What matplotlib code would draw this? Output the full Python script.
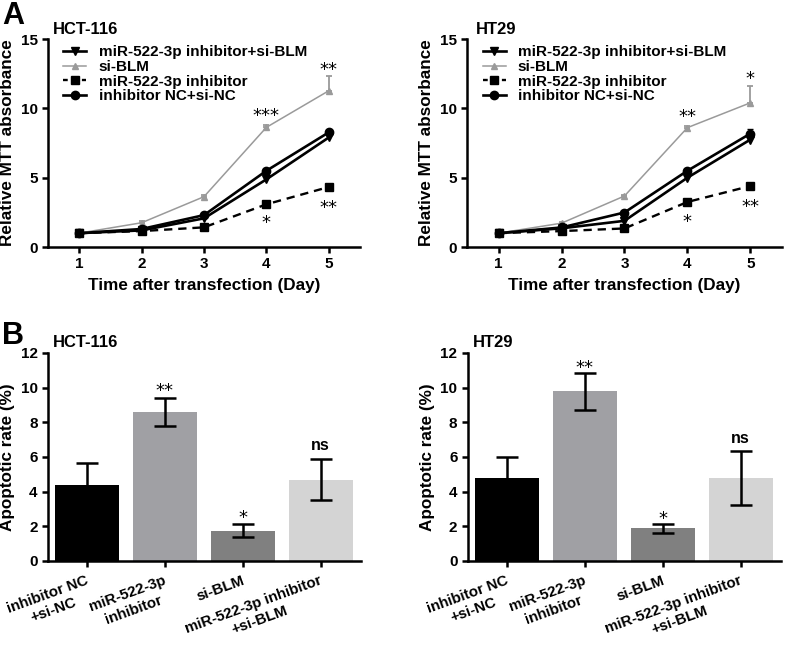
import matplotlib
matplotlib.use("Agg")
import matplotlib.pyplot as plt
from matplotlib.lines import Line2D
import numpy as np

plt.rcParams['font.family'] = ['Liberation Sans', 'DejaVu Sans']
plt.rcParams['font.weight'] = 'bold'
plt.rcParams['axes.labelweight'] = 'bold'

# == Data ==
days = [1, 2, 3, 4, 5]
series_names = ["miR-522-3p inhibitor+si-BLM", "si-BLM", "miR-522-3p inhibitor", "inhibitor NC+si-NC"]

# HCT-116 MTT
hct_inh_siblm = [1.0, 1.2, 2.07, 4.88, 7.9]
hct_siblm = [1.0, 1.75, 3.63, 8.63, 11.27]
hct_inh = [1.0, 1.15, 1.42, 3.08, 4.33]
hct_nc = [1.0, 1.3, 2.3, 5.5, 8.27]
hct_siblm_err = [0.05, 0.1, 0.1, 0.15, 1.06]
hct_nc_err = [0.05, 0.05, 0.1, 0.15, 0.15]

# HT29 MTT
ht_inh_siblm = [1.0, 1.35, 1.89, 5.0, 7.75]
ht_siblm = [1.0, 1.72, 3.68, 8.61, 10.4]
ht_inh = [1.0, 1.15, 1.34, 3.25, 4.4]
ht_nc = [1.0, 1.41, 2.49, 5.5, 8.18]
ht_siblm_err = [0.05, 0.1, 0.1, 0.15, 1.23]
ht_nc_err = [0.05, 0.05, 0.1, 0.15, 0.35]

# significance marks (day, y, text)
hct_marks = [(4, 9.43, "***"), (5, 12.77, "**"), (4, 1.76, "*"), (5, 2.84, "**")]
ht_marks = [(4, 9.36, "**"), (5, 12.09, "*"), (4, 1.82, "*"), (5, 2.9, "**")]

# Apoptosis bars
bar_labels = ["inhibitor NC\n+si-NC", "miR-522-3p\ninhibitor", "si-BLM", "miR-522-3p inhibitor\n+si-BLM"]
bar_colors = ["#000000", "#a0a0a4", "#808080", "#d4d4d4"]
hct_apop = [4.4, 8.6, 1.75, 4.7]
hct_apop_err = [1.25, 0.8, 0.36, 1.17]
ht_apop = [4.8, 9.8, 1.88, 4.78]
ht_apop_err = [1.22, 1.07, 0.28, 1.56]
bar_sig = ["", "**", "*", "ns"]
hct_sig_y = [0, 9.8, 2.5, 6.69]
ht_sig_y = [0, 11.15, 2.44, 7.08]

fig = plt.figure(figsize=(7.85, 6.46), dpi=100)
renderer = fig.canvas.get_renderer()

GRAY = "#9a9a9a"
LABEL_FS = 10.8
ROT = 20
STAR_FONT = dict(family="DejaVu Sans", fontsize=13, fontweight="normal")


def style_axes(ax):
    for s in ["top", "right"]:
        ax.spines[s].set_visible(False)
    for s in ["left", "bottom"]:
        ax.spines[s].set_linewidth(1.8)
    ax.tick_params(width=1.8, length=4, labelsize=11, direction="out")
    for lab in ax.get_xticklabels() + ax.get_yticklabels():
        lab.set_fontweight("bold")


def mtt_panel(rect, title, inh_siblm, siblm, inh, nc, siblm_err, nc_err, marks, title_x):
    ax = fig.add_axes(rect)
    ax.plot(days, inh_siblm, color="black", lw=1.9, marker="v", ms=6)
    ax.errorbar(days, siblm, yerr=[np.zeros(5), siblm_err], color=GRAY, lw=1.1,
                marker="^", ms=5, capsize=2.5, elinewidth=1.3, capthick=1.3)
    ax.plot(days, inh, color="black", lw=1.7, ls=(0, (3.5, 2.5)), marker="s", ms=6)
    ax.errorbar(days, nc, yerr=[np.zeros(5), nc_err], color="black", lw=1.9, marker="o", ms=6,
                capsize=2.5, elinewidth=1.5)
    for d, y, t in marks:
        ax.text(d, y, t, ha="center", va="center", **STAR_FONT)
    ax.set_xlim(0.5, 5.5)
    ax.set_ylim(0, 15)
    ax.set_xticks(days)
    ax.set_yticks([0, 5, 10, 15])
    ax.set_xlabel("Time after transfection (Day)", fontsize=12.3, fontweight="bold", labelpad=5)
    ax.set_ylabel("Relative MTT absorbance", fontsize=12.3, fontweight="bold", labelpad=4)
    ax.text(title_x, 1.012, title, transform=ax.transAxes, fontsize=12, fontweight="bold",
            ha="left", va="bottom")
    handles = [
        Line2D([], [], color="black", lw=1.9, marker="v", ms=6),
        Line2D([], [], color=GRAY, lw=1.1, marker="^", ms=5),
        Line2D([], [], color="black", lw=1.7, ls=(0, (2, 2)), marker="s", ms=6),
        Line2D([], [], color="black", lw=1.9, marker="o", ms=6),
    ]
    leg = ax.legend(handles, series_names, loc="upper left", bbox_to_anchor=(0.03, 1.0),
                    frameon=False, fontsize=11, handlelength=1.5, labelspacing=0.05,
                    borderaxespad=0.0, handletextpad=0.8)
    for t in leg.get_texts():
        t.set_fontweight("bold")
    style_axes(ax)
    return ax


def rotated_labels(ax, labels):
    # each line its own text so the boxes stay tight
    th = np.radians(ROT)
    u = np.array([np.cos(th), np.sin(th)])
    v = np.array([np.sin(th), -np.cos(th)])
    step = 1.12 * LABEL_FS
    for i, lab in enumerate(labels):
        lines = lab.split("\n")
        p1 = np.array([-1.0, -9.0])
        t1 = ax.annotate(lines[0], xy=(i, 0), xycoords=("data", "axes fraction"),
                         xytext=p1, textcoords="offset points", rotation=ROT,
                         ha="right", va="top", rotation_mode="anchor",
                         fontsize=LABEL_FS, fontweight="bold", annotation_clip=False)
        if len(lines) > 1:
            t1.set_rotation(0)
            w1 = t1.get_window_extent(renderer).width * 72 / fig.dpi
            t1.set_rotation(ROT)
            p2 = p1 - (w1 / 2) * u + step * v
            ax.annotate(lines[1], xy=(i, 0), xycoords=("data", "axes fraction"),
                        xytext=p2, textcoords="offset points", rotation=ROT,
                        ha="center", va="top", rotation_mode="anchor",
                        fontsize=LABEL_FS, fontweight="bold", annotation_clip=False)


def bar_panel(rect, title, vals, errs, sig_y, title_x):
    ax = fig.add_axes(rect)
    x = np.arange(len(vals))
    ax.bar(x, vals, width=0.82, color=bar_colors)
    ax.errorbar(x, vals, yerr=errs, fmt="none", ecolor="black", elinewidth=1.8, capsize=8, capthick=1.8)
    for xi, y, s in zip(x, sig_y, bar_sig):
        if s == "ns":
            ax.text(xi, y, s, ha="center", va="center", fontsize=11.5, fontweight="bold")
        elif s:
            ax.text(xi, y, s, ha="center", va="center", **STAR_FONT)
    ax.set_xlim(-0.5, 3.52)
    ax.set_ylim(0, 12)
    ax.set_yticks(range(0, 13, 2))
    ax.set_xticks(x)
    ax.set_xticklabels([])
    ax.set_ylabel("Apoptotic rate (%)", fontsize=12.3, fontweight="bold", labelpad=4)
    ax.text(title_x, 1.012, title, transform=ax.transAxes, fontsize=12, fontweight="bold",
            ha="left", va="bottom")
    style_axes(ax)
    rotated_labels(ax, bar_labels)
    return ax


mtt_panel([0.0611, 0.6176, 0.3975, 0.322], "HCT-116", hct_inh_siblm, hct_siblm, hct_inh, hct_nc,
          hct_siblm_err, hct_nc_err, hct_marks, 0.016)
mtt_panel([0.595, 0.6176, 0.401, 0.322], "HT29", ht_inh_siblm, ht_siblm, ht_inh, ht_nc,
          ht_siblm_err, ht_nc_err, ht_marks, 0.028)
bar_panel([0.0611, 0.1316, 0.3989, 0.322], "HCT-116", hct_apop, hct_apop_err, hct_sig_y, 0.016)
bar_panel([0.596, 0.1316, 0.399, 0.322], "HT29", ht_apop, ht_apop_err, ht_sig_y, 0.016)

fig.text(0.003, 0.998, "A", fontsize=22, fontweight="bold", ha="left", va="top")
fig.text(0.003, 0.503, "B", fontsize=22, fontweight="bold", ha="left", va="top")

fig.savefig("out.png", dpi=100)
